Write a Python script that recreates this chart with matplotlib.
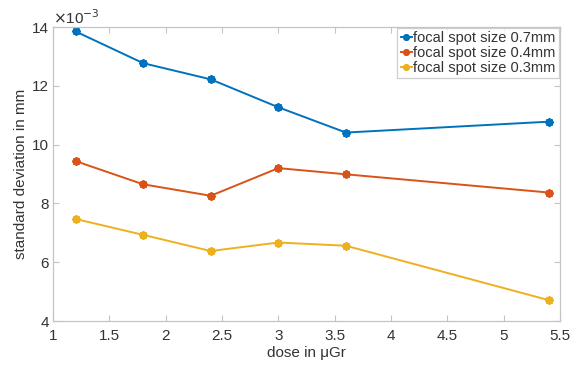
import matplotlib
matplotlib.use("Agg")
import matplotlib.pyplot as plt

plt.rcParams['font.family'] = ['Liberation Sans', 'DejaVu Sans']

# values in units of 1e-3 mm
dose = [1.2, 1.8, 2.4, 3.0, 3.6, 5.4]
std_07 = [13.85, 12.77, 12.22, 11.27, 10.41, 10.78]
std_04 = [9.44, 8.65, 8.26, 9.2, 8.99, 8.37]
std_03 = [7.47, 6.93, 6.38, 6.67, 6.56, 4.71]
labels = ["focal spot size 0.7mm", "focal spot size 0.4mm", "focal spot size 0.3mm"]
colors = ["#0072BD", "#D95319", "#EDB120"]
xticks = [1, 1.5, 2, 2.5, 3, 3.5, 4, 4.5, 5, 5.5]
xticklabels = ["1", "1.5", "2", "2.5", "3", "3.5", "4", "4.5", "5", "5.5"]
yticks = [4, 6, 8, 10, 12, 14]

fig = plt.figure(figsize=(5.8, 3.68), dpi=100)
ax = fig.add_axes([0.0914, 0.1277, 0.8741, 0.7989])

for ys, lab, c in zip([std_07, std_04, std_03], labels, colors):
    ax.plot(dose, ys, color=c, lw=1.4, marker=(8, 2, 0), markersize=6,
            markeredgewidth=1.4, label=lab)

ax.set_xlim(1, 5.5)
ax.set_ylim(4, 14)
ax.set_xticks(xticks)
ax.set_xticklabels(xticklabels)
ax.set_yticks(yticks)
ax.set_yticklabels([str(v) for v in yticks])

grey = "#333333"
for s in ax.spines.values():
    s.set_color("#c4c4c4")
    s.set_linewidth(0.9)
ax.tick_params(direction='in', top=True, right=True, colors="#c4c4c4",
               labelcolor=grey, labelsize=11, length=4)
ax.tick_params(axis='x', pad=6)
ax.tick_params(axis='y', pad=3)

ax.text(0.0, 1.0, r"$\times$10$^{-3}$", transform=ax.transAxes, ha='left',
        va='bottom', fontsize=11, color=grey)

ax.set_xlabel("dose in μGr", fontsize=11, color=grey, labelpad=2)
ax.set_ylabel("standard deviation in mm", fontsize=11, color=grey, labelpad=3)

leg = ax.legend(loc='upper right', fontsize=10.5, frameon=True, fancybox=False,
                handlelength=0.75, handletextpad=0.1, borderpad=0.25,
                labelspacing=0.05, borderaxespad=0.05, markerscale=0.8)
leg.get_frame().set_edgecolor("#c4c4c4")
leg.get_frame().set_linewidth(0.9)
for t in leg.get_texts():
    t.set_color(grey)

fig.savefig("out.png", dpi=100)
